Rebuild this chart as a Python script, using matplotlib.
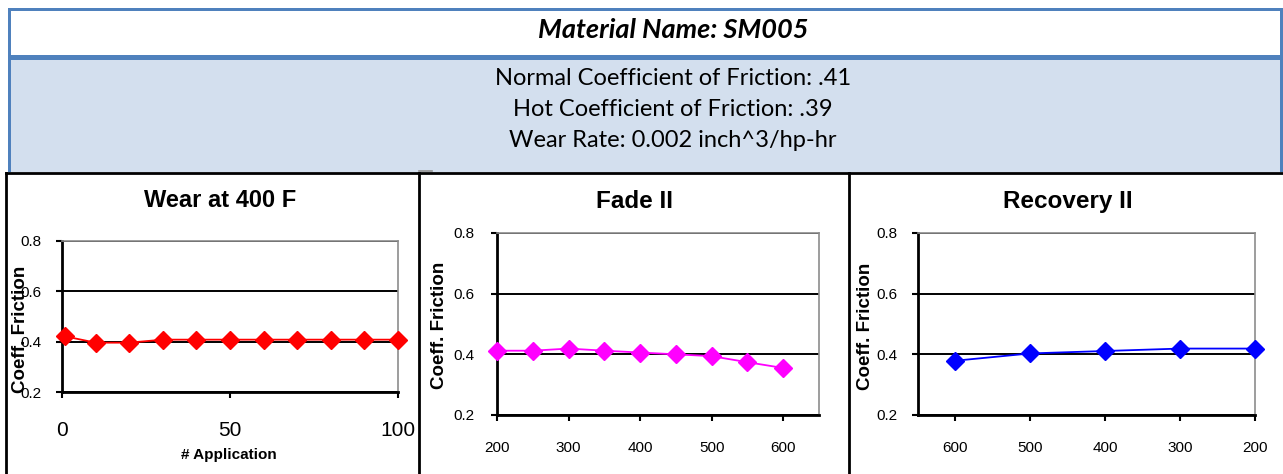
import numpy as np
import matplotlib.pyplot as plt
from matplotlib.patches import Rectangle
from matplotlib.lines import Line2D

# header text
material = 'Material Name: SM005'
info_lines = ['Normal Coefficient of Friction: .41',
              'Hot Coefficient of Friction: .39',
              'Wear Rate: 0.002 inch^3/hp-hr']

# Wear at 400 F
wear_x = [1, 10, 20, 30, 40, 50, 60, 70, 80, 90, 100]
wear_y = [0.421, 0.396, 0.396, 0.408, 0.408, 0.408, 0.408, 0.408, 0.408, 0.408, 0.408]

# Fade II
fade_x = [200, 250, 300, 350, 400, 450, 500, 550, 600]
fade_y = [0.412, 0.412, 0.419, 0.412, 0.406, 0.400, 0.394, 0.374, 0.355]

# Recovery II
rec_x = [600, 500, 400, 300, 200]
rec_y = [0.379, 0.403, 0.411, 0.419, 0.419]

yticks = [0.2, 0.4, 0.6, 0.8]

W, H = 1283, 474
fig = plt.figure(figsize=(W / 100, H / 100), dpi=100)


def fx(px):
    return px / W


def fy(py):
    return 1 - py / H


def add_box(l, t, r, b, color):
    fig.add_artist(Rectangle((fx(l), fy(b)), (r - l) / W, (b - t) / H,
                             transform=fig.transFigure, facecolor=color,
                             edgecolor='none', zorder=0))


# header box
add_box(8, 8, 1283, 172, '#4F81BD')
add_box(11, 11, 1280, 55, 'white')
add_box(11, 60, 1280, 172, '#D3DFEE')

hfont = 'Lato'
fig.text(fx(673), fy(38), material, ha='center', va='baseline', fontsize=19.5,
         fontweight='bold', fontstyle='italic', family=hfont)
for txt, base in zip(info_lines, [85, 116, 147]):
    fig.text(fx(673), fy(base), txt, ha='center', va='baseline', fontsize=17,
             family=hfont)

# panel borders
def fline(x0, y0, x1, y1, color='black', lw=2):
    fig.add_artist(Line2D([fx(x0), fx(x1)], [fy(y0), fy(y1)], color=color,
                          lw=lw, transform=fig.transFigure, zorder=3))


fline(6, 173, 1283, 173)
for xv in [6, 419, 849]:
    fline(xv, 173, xv, 474)
fline(419, 171, 432, 171, color='#909090', lw=1.2)


def make_axes(l, t, r, b):
    ax = fig.add_axes([fx(l), fy(b), (r - l) / W, (b - t) / H])
    ax.set_ylim(0.2, 0.8)
    ax.set_yticks(yticks)
    ax.yaxis.grid(True, color='black', lw=1.4)
    ax.set_axisbelow(True)
    for s in ['left', 'bottom']:
        ax.spines[s].set_color('black')
        ax.spines[s].set_linewidth(2)
    for s in ['top', 'right']:
        ax.spines[s].set_color('#8c8c8c')
        ax.spines[s].set_linewidth(1.2)
    ax.tick_params(direction='out', length=4, width=1.5, color='black')
    return ax


lab = dict(family='Liberation Sans')

# panel 1
ax1 = make_axes(62, 241, 398, 392)
ax1.plot(wear_x, wear_y, color='red', lw=1.3, marker='D', ms=9.5, clip_on=False, zorder=5)
ax1.set_xlim(0, 100)
ax1.set_xticks([0, 50, 100])
ax1.tick_params(axis='x', pad=17, labelsize=15)
ax1.tick_params(axis='y', pad=11, labelsize=11)
fig.text(fx(220), fy(207), 'Wear at 400 F', ha='center', va='baseline',
         fontsize=17, fontweight='bold', **lab)
fig.text(fx(21), fy(329), 'Coeff. Friction', rotation=90, ha='center', va='center',
         fontsize=13.5, fontweight='bold', **lab)
fig.text(fx(229), fy(455), '# Application', ha='center', va='center',
         fontsize=11, fontweight='bold', **lab)

# panel 2
ax2 = make_axes(497, 233, 819, 415)
ax2.plot(fade_x, fade_y, color='#FF00FF', lw=1.3, marker='D', ms=9.5, clip_on=False, zorder=5)
ax2.set_xlim(200, 650)
ax2.set_xticks([200, 300, 400, 500, 600])
ax2.tick_params(axis='x', pad=15, labelsize=11)
ax2.tick_params(axis='y', pad=12.5, labelsize=11)
fig.text(fx(635), fy(208), 'Fade II', ha='center', va='baseline',
         fontsize=17.5, fontweight='bold', **lab)
fig.text(fx(440), fy(325), 'Coeff. Friction', rotation=90, ha='center', va='center',
         fontsize=13.5, fontweight='bold', **lab)

# panel 3
ax3 = make_axes(918, 233, 1255, 415)
ax3.plot(rec_x, rec_y, color='#0000FF', lw=1.3, marker='D', ms=9.5, clip_on=False, zorder=5)
ax3.set_xlim(650, 200)
ax3.set_xticks([600, 500, 400, 300, 200])
ax3.tick_params(axis='x', pad=15, labelsize=11)
ax3.tick_params(axis='y', pad=11, labelsize=11)
fig.text(fx(1068), fy(208), 'Recovery II', ha='center', va='baseline',
         fontsize=17.5, fontweight='bold', **lab)
fig.text(fx(866), fy(326), 'Coeff. Friction', rotation=90, ha='center', va='center',
         fontsize=13.5, fontweight='bold', **lab)

for ax in [ax1, ax2, ax3]:
    for t in ax.get_xticklabels() + ax.get_yticklabels():
        t.set_family('Liberation Sans')

fig.savefig('out.png', dpi=100)
